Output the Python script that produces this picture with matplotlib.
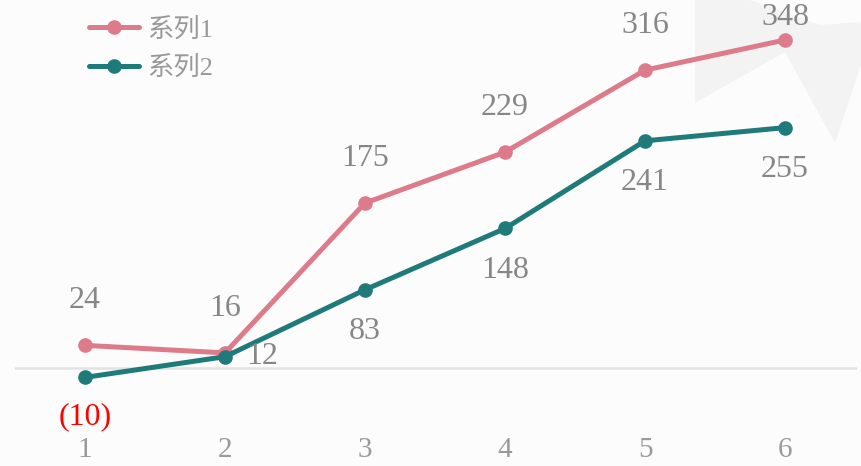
import matplotlib
matplotlib.use('Agg')
import matplotlib.pyplot as plt
from matplotlib.patches import Polygon

plt.rcParams['font.family'] = ['Liberation Serif', 'Noto Sans CJK SC', 'DejaVu Sans']

categories = [1, 2, 3, 4, 5, 6]
series1 = [24, 16, 175, 229, 316, 348]
series2 = [-10, 12, 83, 148, 241, 255]
names = ['系列1', '系列2']
colors = ['#DE7B8B', '#1F7B7A']

W, H = 862, 466
fig = plt.figure(figsize=(W / 100, H / 100), dpi=100, facecolor='#FCFCFC')

# faint decorative shape in the top right corner (pixel coords)
shape_px = [(695, 0), (695, 103), (785, 52), (835, 143), (862, 62),
            (862, 22), (820, 25), (750, 0)]
fig.patches.append(Polygon([(x / W, 1 - y / H) for x, y in shape_px],
                           closed=True, transform=fig.transFigure,
                           facecolor='#F3F3F3', edgecolor='none', zorder=-5))

ax = fig.add_axes([15 / W, 1 - 430 / H, 842 / W, 430 / H])
ax.set_facecolor('none')
ax.set_zorder(1)
ax.set_xlim(0.5, 6.514)
ax.set_ylim(-65.8, 390.4)
for s in ax.spines.values():
    s.set_visible(False)
ax.set_yticks([])
ax.set_xticks(categories)
ax.set_xticklabels([str(c) for c in categories])
ax.tick_params(axis='x', length=0, pad=5, labelsize=21, labelcolor='#9A9A9A')
ax.axhline(0, color='#E3E3E3', lw=1.8, zorder=1)

for vals, name, col in zip([series1, series2], names, colors):
    ax.plot(categories, vals, color=col, lw=3.6, marker='o', ms=9.5,
            label=name, zorder=3, solid_capstyle='round')

def fmt(v):
    return f'({abs(v)})' if v < 0 else str(v)

lab_kw = dict(textcoords='offset points', ha='center', va='center',
              fontsize=23, zorder=4, annotation_clip=False)

for i, (x, v) in enumerate(zip(categories, series1)):
    dy = 16 if i == len(series1) - 1 else 32
    ax.annotate(fmt(v), (x, v), xytext=(0, dy), color='#878787', **lab_kw)

for i, (x, v) in enumerate(zip(categories, series2)):
    if i == 1:
        off = (27, 0)
    elif v < 0:
        off = (0, -28)
    else:
        off = (0, -30)
    ax.annotate(fmt(v), (x, v), xytext=off,
                color='#FF0000' if v < 0 else '#878787', **lab_kw)

leg = ax.legend(loc='upper left', bbox_to_anchor=(0.075, 0.985), frameon=False,
                fontsize=19, handlelength=1.9, handletextpad=0.3,
                labelspacing=0.55, borderaxespad=0)
for t in leg.get_texts():
    t.set_color('#999999')

fig.savefig('out.png', dpi=100, facecolor=fig.get_facecolor())
